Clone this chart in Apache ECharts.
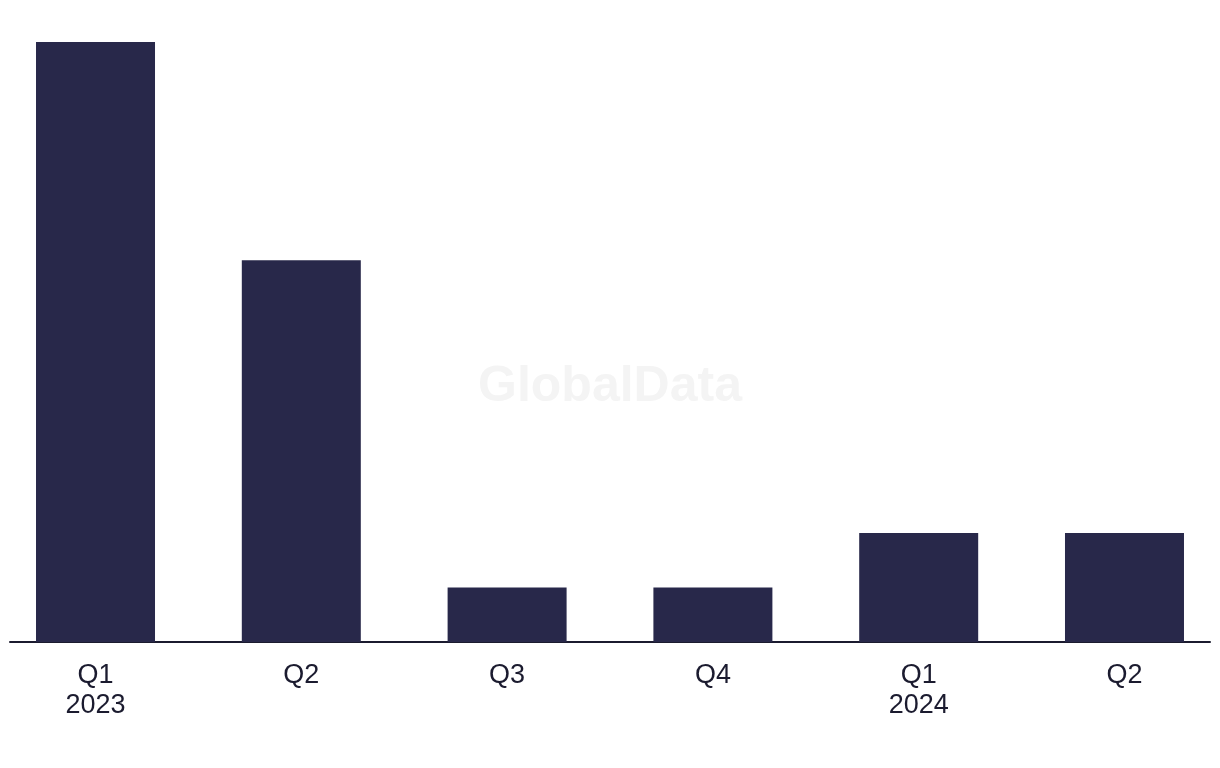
<!DOCTYPE html>
<html>
<head>
<meta charset="utf-8">
<script src="https://cdn.jsdelivr.net/npm/echarts@6/dist/echarts.min.js"></script>
<style>
html,body{margin:0;padding:0;background:#fff;}
#chart{width:1220px;height:768px;}
</style>
</head>
<body>
<div id="chart"></div>
<script>
var categories = ['Q1\n2023', 'Q2', 'Q3', 'Q4', 'Q1\n2024', 'Q2'];
var values = [11, 7, 1, 1, 2, 2];

var chart = echarts.init(document.getElementById('chart'), null, {renderer: 'canvas'});
var seriesData = values.map(function (v, i) { return [i, v]; });
var idx = categories.map(function (c, i) { return i; });

chart.setOption({
  animation: false,
  backgroundColor: '#ffffff',
  graphic: [{
    type: 'text',
    left: 'center',
    top: 362,
    z: -1,
    style: {
      text: 'GlobalData',
      fontFamily: 'Liberation Sans, Arial, sans-serif',
      fontWeight: 'bold',
      fontSize: 50,
      fill: '#f4f4f4'
    }
  }],
  grid: {left: 10, right: 10, top: 42, bottom: 126, containLabel: false},
  xAxis: {
    type: 'value',
    min: -0.4155,
    max: 5.4155,
    splitLine: {show: false},
    axisTick: {show: false},
    axisLine: {show: true, onZero: false, lineStyle: {color: '#1b1b2f', width: 2}},
    axisLabel: {
      customValues: idx,
      margin: 19,
      fontSize: 27,
      lineHeight: 30,
      color: '#1b1b2f',
      fontFamily: 'Liberation Sans, Arial, sans-serif',
      formatter: function (v) { return categories[Math.round(v)]; }
    }
  },
  yAxis: {
    type: 'value',
    min: 0,
    max: 11,
    show: false
  },
  series: [{
    type: 'bar',
    data: seriesData,
    barWidth: 119,
    itemStyle: {color: '#28284a'}
  }]
});
</script>
</body>
</html>
